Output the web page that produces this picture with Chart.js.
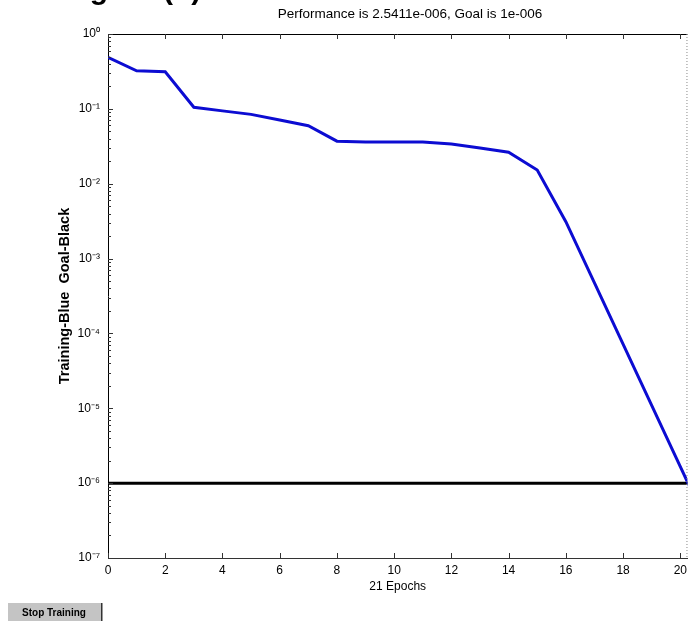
<!DOCTYPE html>
<html>
<head>
  <meta charset="UTF-8">
  <title>Training performance</title>
  <script src="https://cdn.jsdelivr.net/npm/chart.js"></script>
  <style>
    html, body { margin: 0; padding: 0; background: #fff; }
    #wrap { width: 692px; height: 621px; }
  </style>
</head>
<body>
  <div id="wrap"><canvas id="perfChart" width="692" height="621"></canvas></div>

  <script>
    // values
    const epochs = [0, 1, 2, 3, 4, 5, 6, 7, 8, 9, 10, 11, 12, 13, 14, 15, 16, 17, 18, 19, 20, 21];
    const training = [0.488, 0.323, 0.313, 0.105, 0.094, 0.0844, 0.0708, 0.0594, 0.037, 0.036, 0.036, 0.036,
                      0.034, 0.030, 0.0264, 0.0152, 3.11e-3, 4.73e-4, 7.2e-5, 1.09e-5, 1.66e-6, 2.52e-7];
    const goalX = [0, 21];
    const goalY = [1e-6, 1e-6];
    const xTicks = [0, 2, 4, 6, 8, 10, 12, 14, 16, 18, 20];
    const yTicks = [1, 1e-1, 1e-2, 1e-3, 1e-4, 1e-5, 1e-6, 1e-7];
    const yTickLabels = ['10⁰', '10⁻¹', '10⁻²', '10⁻³', '10⁻⁴', '10⁻⁵', '10⁻⁶', '10⁻⁷'];

    const FONT = "'Liberation Sans', Arial, sans-serif";

    // matlab style box, inward ticks, title and the extra window bits
    const figureBits = {
      id: 'figureBits',
      afterDraw(chart) {
        const ctx = chart.ctx;
        const a = chart.chartArea;
        const xs = chart.scales.x, ys = chart.scales.y;
        ctx.save();

        // top edge
        ctx.strokeStyle = '#000';
        ctx.lineWidth = 1;
        ctx.beginPath();
        ctx.moveTo(a.left, a.top + 0.5);
        ctx.lineTo(a.right, a.top + 0.5);
        ctx.stroke();

        // right edge (dotted in the picture)
        ctx.strokeStyle = '#888';
        ctx.setLineDash([1, 2]);
        ctx.beginPath();
        ctx.moveTo(a.right - 0.5, a.top);
        ctx.lineTo(a.right - 0.5, a.bottom);
        ctx.stroke();
        ctx.setLineDash([]);

        // x ticks, bottom and top
        ctx.strokeStyle = '#333';
        xTicks.forEach(v => {
          const px = Math.round(xs.getPixelForValue(v)) + 0.5;
          ctx.beginPath();
          ctx.moveTo(px, a.bottom); ctx.lineTo(px, a.bottom - 5);
          ctx.moveTo(px, a.top); ctx.lineTo(px, a.top + 5);
          ctx.stroke();
        });

        // y ticks, majors and minors
        yTicks.forEach(v => {
          const py = Math.round(ys.getPixelForValue(v)) + 0.5;
          ctx.beginPath();
          ctx.moveTo(a.left, py); ctx.lineTo(a.left + 5, py);
          ctx.stroke();
          if (v < 1) {
            for (let m = 2; m <= 9; m++) {
              const my = Math.round(ys.getPixelForValue(v * m)) + 0.5;
              ctx.beginPath();
              ctx.moveTo(a.left, my); ctx.lineTo(a.left + 3, my);
              ctx.stroke();
            }
          }
        });

        // title
        ctx.fillStyle = '#000';
        ctx.font = '13.5px ' + FONT;
        ctx.textAlign = 'center';
        ctx.textBaseline = 'middle';
        ctx.fillText('Performance is 2.5411e-006, Goal is 1e-006', 410, 14);

        // window caption, mostly cut off at the top
        ctx.font = 'bold 30px ' + FONT;
        ctx.textAlign = 'left';
        ctx.textBaseline = 'alphabetic';
        ctx.fillText('Figure (?)', 63, -1);

        // stop button
        ctx.fillStyle = '#c4c4c4';
        ctx.fillRect(8, 603, 94, 18);
        ctx.fillStyle = '#333';
        ctx.fillRect(101, 603, 1.5, 18);
        ctx.fillStyle = '#000';
        ctx.font = 'bold 10px ' + FONT;
        ctx.textAlign = 'center';
        ctx.textBaseline = 'middle';
        ctx.fillText('Stop Training', 54, 613);

        ctx.restore();
      }
    };

    const ctx = document.getElementById('perfChart').getContext('2d');
    new Chart(ctx, {
      type: 'line',
      data: {
        datasets: [
          {
            label: 'Training',
            data: epochs.map((e, i) => ({ x: e, y: training[i] })),
            borderColor: '#0c0cd2',
            borderWidth: 3,
            pointRadius: 0,
            tension: 0
          },
          {
            label: 'Goal',
            data: goalX.map((e, i) => ({ x: e, y: goalY[i] })),
            borderColor: '#000',
            borderWidth: 3,
            pointRadius: 0
          }
        ]
      },
      options: {
        responsive: false,
        animation: false,
        layout: { padding: { top: 34, right: 2, bottom: 0, left: 0 } },
        plugins: {
          legend: { display: false },
          tooltip: { enabled: false }
        },
        scales: {
          x: {
            type: 'linear',
            min: 0,
            max: 20.25,
            afterFit(s) { s.height = 63; },
            afterBuildTicks(s) { s.ticks = xTicks.map(v => ({ value: v })); },
            grid: { display: false, drawTicks: false },
            border: { display: true, color: '#333', width: 1 },
            ticks: { color: '#000', padding: 5, font: { family: FONT, size: 12 }, maxRotation: 0 },
            title: {
              display: true,
              text: '21 Epochs',
              color: '#000',
              font: { family: FONT, size: 12 },
              padding: { top: 0, bottom: 27 }
            }
          },
          y: {
            type: 'logarithmic',
            min: 1e-7,
            max: 1,
            afterFit(s) { s.width = 108; },
            afterBuildTicks(s) { s.ticks = yTicks.map(v => ({ value: v })); },
            grid: { display: false, drawTicks: false },
            border: { display: true, color: '#000', width: 1 },
            ticks: {
              color: '#000',
              padding: 8,
              font: { family: FONT, size: 12 },
              callback: (v) => yTickLabels[yTicks.indexOf(v)] ?? ''
            },
            title: {
              display: true,
              text: 'Training-Blue  Goal-Black',
              color: '#000',
              font: { family: FONT, size: 14.5, weight: 'bold' },
              padding: { top: 56, bottom: 0 }
            }
          }
        }
      },
      plugins: [figureBits]
    });
  </script>
</body>
</html>
